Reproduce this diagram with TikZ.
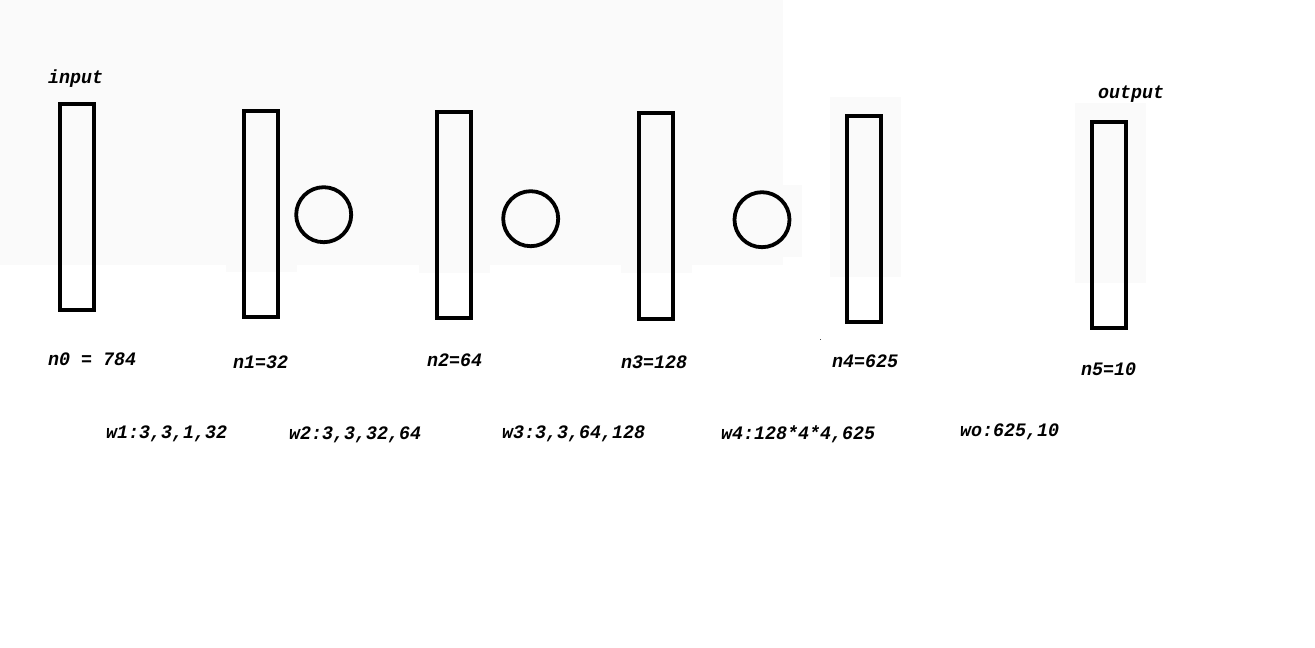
\documentclass[tikz,border=0pt]{standalone}
\usepackage{fontspec}
\newfontfamily\lblfont[FakeStretch=0.965]{Liberation Mono}
\begin{document}
\begin{tikzpicture}[x=1pt,y=-1pt,
  layer/.style={draw=black,line width=4pt,fill=none,minimum width=34pt,minimum height=206pt,inner sep=0pt},
  pool/.style={draw=black,line width=3.8pt,circle,minimum size=55pt,inner sep=0pt},
  lbl/.style={anchor=base west,inner sep=0pt,font=\lblfont\bfseries\itshape\fontsize{19pt}{21pt}\selectfont},
  bgpatch/.style={fill=bgc,draw=none}]
\definecolor{bgc}{RGB}{250,250,250}
\useasboundingbox (0,0) rectangle (1315,648);
\fill[white] (0,0) rectangle (1315,648);
% light background patches
\fill[bgpatch] (0,0) rectangle (783,265);
\fill[bgpatch] (226,265) rectangle (297,272);
\fill[bgpatch] (419,265) rectangle (490,273);
\fill[bgpatch] (621,265) rectangle (692,273);
\fill[bgpatch] (783,185) rectangle (802,257);
\fill[bgpatch] (830,97) rectangle (901,277);
\fill[bgpatch] (1075,103) rectangle (1146,283);
\fill[black!70] (820.2,338.8) rectangle (821.4,340);
% layers
\node[layer] (r0) at (77,207) {};
\node[layer] (r1) at (260.5,213.7) {};
\node[layer] (r2) at (453.5,214.6) {};
\node[layer] (r3) at (655.5,216) {};
\node[layer] (r4) at (864.4,218.7) {};
\node[layer] (r5) at (1109.4,224.7) {};
% pooling circles
\node[pool] (c1) at (323.7,214.7) {};
\node[pool] (c2) at (530.7,218.7) {};
\node[pool] (c3) at (762,219.7) {};
% labels
\node[lbl] (tin) at (48,83) {input};
\node[lbl] (tout) at (1098,98) {output};
\node[lbl] (t0) at (48,365) {n0 = 784};
\node[lbl] (t1) at (233,368.5) {n1=32};
\node[lbl] (t2) at (427,366) {n2=64};
\node[lbl] (t3) at (621,368) {n3=128};
\node[lbl] (t4) at (832,367) {n4=625};
\node[lbl] (t5) at (1081,375) {n5=10};
\node[lbl] (w1) at (106,438) {w1:3,3,1,32};
\node[lbl] (w2) at (289,439) {w2:3,3,32,64};
\node[lbl] (w3) at (502,438) {w3:3,3,64,128};
\node[lbl] (w4) at (721,439) {w4:128*4*4,625};
\node[lbl] (wo) at (960,436) {wo:625,10};
\end{tikzpicture}
\end{document}
